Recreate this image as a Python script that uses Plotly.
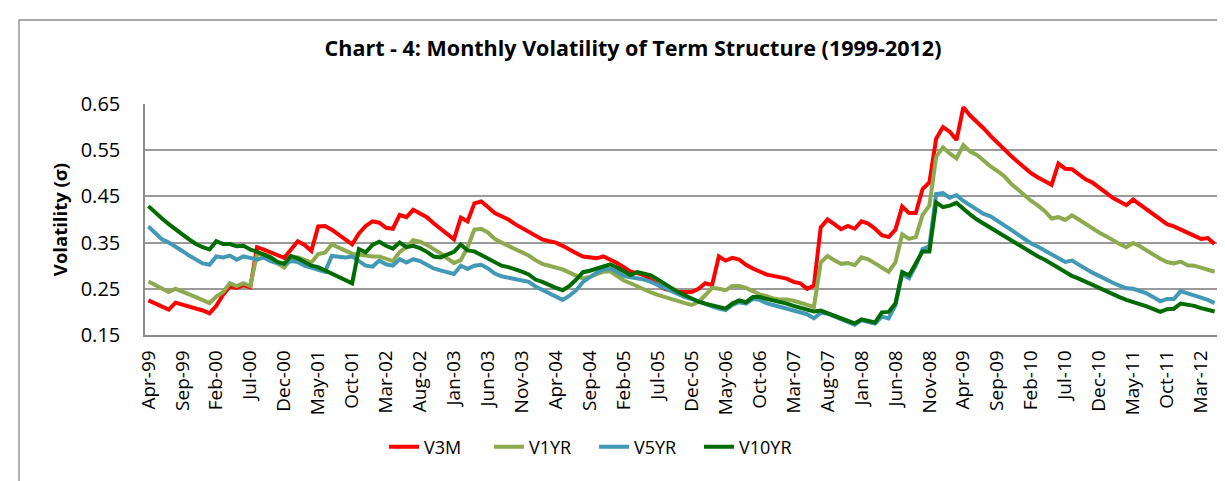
import pandas as pd
import plotly.graph_objects as go

months = pd.date_range("1999-04-01", periods=158, freq="MS").strftime("%b-%y").tolist()

v3m = [
    0.225, 0.218, 0.212, 0.205, 0.220, 0.216, 0.212, 0.208, 0.203, 0.197,
    0.213, 0.237, 0.255, 0.252, 0.258, 0.253, 0.340, 0.335, 0.329, 0.322,
    0.317, 0.335, 0.353, 0.345, 0.332, 0.385, 0.386, 0.378, 0.367, 0.357,
    0.346, 0.370, 0.386, 0.396, 0.393, 0.382, 0.380, 0.410, 0.405, 0.421,
    0.413, 0.405, 0.392, 0.380, 0.368, 0.357, 0.404, 0.396, 0.435, 0.439,
    0.427, 0.414, 0.407, 0.400, 0.390, 0.382, 0.375, 0.366, 0.357, 0.353,
    0.350, 0.343, 0.334, 0.327, 0.320, 0.317, 0.316, 0.320, 0.314, 0.306,
    0.297, 0.287, 0.284, 0.279, 0.269, 0.260, 0.250, 0.246, 0.243, 0.243,
    0.243, 0.250, 0.262, 0.258, 0.320, 0.311, 0.317, 0.313, 0.302, 0.294,
    0.288, 0.281, 0.278, 0.276, 0.272, 0.265, 0.262, 0.250, 0.257, 0.383,
    0.400, 0.390, 0.379, 0.386, 0.380, 0.396, 0.391, 0.380, 0.366, 0.362,
    0.378, 0.428, 0.414, 0.414, 0.466, 0.480, 0.575, 0.600, 0.590, 0.572,
    0.643, 0.625, 0.612, 0.597, 0.581, 0.566, 0.551, 0.538, 0.525, 0.513,
    0.500, 0.491, 0.482, 0.475, 0.521, 0.510, 0.509, 0.497, 0.487, 0.480,
    0.470, 0.458, 0.447, 0.438, 0.431, 0.443, 0.432, 0.422, 0.410, 0.400,
    0.390, 0.385, 0.378, 0.371, 0.366, 0.358, 0.360, 0.347,
]

v1yr = [
    0.266, 0.258, 0.250, 0.243, 0.250, 0.245, 0.238, 0.232, 0.226, 0.219,
    0.233, 0.243, 0.262, 0.256, 0.262, 0.256, 0.325, 0.325, 0.318, 0.305,
    0.296, 0.315, 0.318, 0.313, 0.307, 0.325, 0.328, 0.346, 0.340, 0.332,
    0.326, 0.324, 0.321, 0.320, 0.320, 0.315, 0.310, 0.330, 0.340, 0.355,
    0.352, 0.345, 0.337, 0.327, 0.316, 0.306, 0.312, 0.340, 0.378, 0.380,
    0.372, 0.358, 0.350, 0.343, 0.334, 0.328, 0.322, 0.312, 0.304, 0.300,
    0.297, 0.292, 0.285, 0.278, 0.272, 0.276, 0.282, 0.287, 0.288, 0.278,
    0.268, 0.262, 0.255, 0.247, 0.242, 0.237, 0.232, 0.228, 0.224, 0.219,
    0.215, 0.222, 0.236, 0.252, 0.250, 0.247, 0.256, 0.256, 0.252, 0.245,
    0.238, 0.234, 0.229, 0.227, 0.227, 0.224, 0.220, 0.215, 0.211, 0.307,
    0.321, 0.312, 0.304, 0.306, 0.301, 0.318, 0.314, 0.305, 0.295, 0.287,
    0.307, 0.368, 0.358, 0.362, 0.410, 0.430, 0.536, 0.556, 0.543, 0.532,
    0.561, 0.547, 0.540, 0.527, 0.515, 0.505, 0.494, 0.478, 0.465, 0.452,
    0.440, 0.430, 0.418, 0.402, 0.405, 0.399, 0.409, 0.400, 0.390, 0.382,
    0.372, 0.364, 0.355, 0.347, 0.340, 0.349, 0.342, 0.333, 0.323, 0.315,
    0.308, 0.305, 0.309, 0.301, 0.300, 0.296, 0.293, 0.287,
]

v5yr = [
    0.385, 0.370, 0.357, 0.350, 0.342, 0.332, 0.322, 0.313, 0.305, 0.302,
    0.320, 0.318, 0.322, 0.313, 0.320, 0.317, 0.313, 0.318, 0.310, 0.305,
    0.304, 0.310, 0.308, 0.300, 0.296, 0.290, 0.287, 0.321, 0.320, 0.318,
    0.320, 0.310, 0.300, 0.298, 0.311, 0.303, 0.300, 0.314, 0.307, 0.314,
    0.310, 0.302, 0.294, 0.290, 0.286, 0.282, 0.300, 0.293, 0.300, 0.302,
    0.294, 0.283, 0.277, 0.274, 0.271, 0.268, 0.265, 0.255, 0.248, 0.241,
    0.234, 0.226, 0.235, 0.247, 0.265, 0.276, 0.285, 0.292, 0.294, 0.287,
    0.278, 0.275, 0.273, 0.270, 0.265, 0.258, 0.252, 0.246, 0.239, 0.232,
    0.228, 0.222, 0.217, 0.212, 0.207, 0.204, 0.215, 0.221, 0.218, 0.228,
    0.226, 0.219, 0.215, 0.211, 0.207, 0.202, 0.199, 0.195, 0.186, 0.198,
    0.196, 0.190, 0.185, 0.180, 0.172, 0.182, 0.179, 0.175, 0.190, 0.186,
    0.215, 0.282, 0.273, 0.300, 0.336, 0.342, 0.455, 0.457, 0.447, 0.453,
    0.440, 0.430, 0.420, 0.412, 0.407, 0.398, 0.389, 0.378, 0.368, 0.358,
    0.348, 0.341, 0.333, 0.326, 0.318, 0.308, 0.311, 0.302, 0.292, 0.285,
    0.278, 0.270, 0.263, 0.257, 0.251, 0.250, 0.245, 0.240, 0.232, 0.223,
    0.228, 0.228, 0.245, 0.240, 0.237, 0.232, 0.226, 0.219,
]

v10yr = [
    0.429, 0.415, 0.402, 0.390, 0.380, 0.368, 0.357, 0.347, 0.340, 0.335,
    0.353, 0.347, 0.347, 0.342, 0.343, 0.335, 0.330, 0.325, 0.318, 0.308,
    0.304, 0.321, 0.316, 0.308, 0.300, 0.297, 0.290, 0.283, 0.276, 0.268,
    0.262, 0.336, 0.329, 0.345, 0.352, 0.343, 0.337, 0.350, 0.340, 0.343,
    0.338, 0.330, 0.320, 0.318, 0.324, 0.330, 0.346, 0.333, 0.331, 0.323,
    0.315, 0.307, 0.300, 0.297, 0.293, 0.287, 0.281, 0.270, 0.265, 0.258,
    0.252, 0.247, 0.256, 0.270, 0.286, 0.289, 0.294, 0.300, 0.303, 0.296,
    0.287, 0.280, 0.286, 0.283, 0.279, 0.270, 0.260, 0.252, 0.243, 0.236,
    0.228, 0.222, 0.218, 0.214, 0.210, 0.207, 0.218, 0.225, 0.221, 0.232,
    0.232, 0.229, 0.226, 0.221, 0.218, 0.213, 0.209, 0.204, 0.201, 0.203,
    0.197, 0.192, 0.187, 0.181, 0.175, 0.184, 0.181, 0.177, 0.199, 0.200,
    0.218, 0.286, 0.279, 0.306, 0.331, 0.331, 0.437, 0.427, 0.430, 0.436,
    0.423, 0.411, 0.400, 0.391, 0.383, 0.375, 0.365, 0.356, 0.347, 0.338,
    0.328, 0.320, 0.313, 0.304, 0.296, 0.285, 0.278, 0.272, 0.265, 0.258,
    0.252, 0.245, 0.238, 0.232, 0.226, 0.222, 0.217, 0.212, 0.206, 0.200,
    0.206, 0.207, 0.218, 0.216, 0.213, 0.208, 0.205, 0.201,
]

series_names = ["V3M", "V1YR", "V5YR", "V10YR"]
series_values = [v3m, v1yr, v5yr, v10yr]
series_colors = ["#FF0000", "#8DAA4F", "#4199B6", "#006B00"]

tick_labels = months[::5]
y_ticks = [0.15, 0.25, 0.35, 0.45, 0.55, 0.65]

FONT = "Open Sans"

fig = go.Figure()
for name, vals, col in zip(series_names, series_values, series_colors):
    fig.add_trace(go.Scatter(
        x=months, y=vals, name=name, mode="lines",
        line=dict(color=col, width=4, shape="linear"),
    ))

# plot area in pixels: x 137..1210, y 96..327
L, R, T, B = 137, 1210, 96, 327
W, H = 1225, 481

def px_x(p):
    return (p - L) / (R - L)

def px_y(p):
    return (B - p) / (B - T)

fig.add_shape(type="rect", xref="paper", yref="paper",
              x0=px_x(11), x1=px_x(1214), y0=px_y(500), y1=px_y(12),
              line=dict(color="#8C8C8C", width=1.3), fillcolor="rgba(0,0,0,0)",
              layer="below")

fig.update_layout(
    width=W, height=H,
    margin=dict(l=L, r=W - R, t=T, b=H - B),
    paper_bgcolor="white", plot_bgcolor="white",
    font=dict(family=FONT, color="#000000"),
    title=dict(
        text="<b>Chart - 4: Monthly Volatility of Term Structure (1999-2012)</b>",
        x=(625) / W, xanchor="center", xref="container",
        y=1 - 40 / H, yanchor="middle", yref="container",
        font=dict(family=FONT, size=21.5, color="#000000"),
    ),
    showlegend=True,
    legend=dict(
        orientation="h", x=px_x(376), xanchor="left",
        y=px_y(439), yanchor="middle",
        font=dict(family=FONT, size=18, color="#000000"),
        entrywidth=60, entrywidthmode="pixels",
        itemwidth=30, bgcolor="rgba(0,0,0,0)",
    ),
    xaxis=dict(
        type="category", categoryorder="array", categoryarray=months,
        range=[-0.5, len(months) - 0.5],
        tickmode="array", tickvals=tick_labels, ticktext=tick_labels,
        tickangle=-90, tickfont=dict(family=FONT, size=19, color="#000000"),
        showgrid=False, showline=True, linecolor="#8C8C8C", linewidth=1.5,
        ticks="", ticklabelstandoff=6, zeroline=False,
    ),
    yaxis=dict(
        range=[0.15, 0.65], tickmode="array", tickvals=y_ticks,
        tickformat=".2f", tickfont=dict(family=FONT, size=20, color="#000000"),
        showgrid=True, gridcolor="#9A9A9A", gridwidth=1.5,
        showline=True, linecolor="#8C8C8C", linewidth=1.5,
        ticks="", ticklabelstandoff=19, zeroline=False,
        title=dict(text="<b>Volatility (σ)</b>",
                   font=dict(family=FONT, size=18.5, color="#000000"),
                   standoff=8),
    ),
)

fig.write_html("out.html")
